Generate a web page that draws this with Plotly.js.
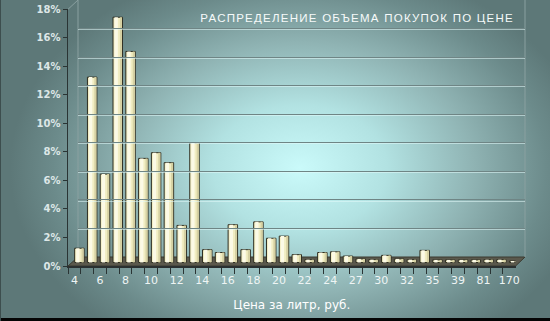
<!DOCTYPE html>
<html>
<head>
<meta charset="utf-8">
<script src="https://cdn.plot.ly/plotly-3.0.1.min.js"></script>
<style>
  html, body { margin: 0; padding: 0; background: #5f7a7a; }
  #chart {
    width: 550px; height: 321px; position: relative;
    background: radial-gradient(ellipse 290px 210px at 300px 168px, #cafafa 0%, #b2e2e2 30%, #8fb3b3 60%, #6c8b8b 85%, #5d7878 100%);
    box-shadow: inset 1px 0 0 #3d4e4e, inset 0 -3px 0 #050505;
  }
  #chart .gtitle { letter-spacing: 1.25px; }
</style>
</head>
<body>
<div id="chart"></div>
<script>
// Price per litre (rub.) categories
const categories = ['4','5','6','7','8','9','10','11','12','13','14','15','16','17','18','19','20','21','22','23','24','25','27','28','30','31','32','33','35','36','39','40','81','100','170'];
// Tick labels (every other category labelled)
const tickLabels = ['4','','6','','8','','10','','12','','14','','16','','18','','20','','22','','24','','27','','30','','32','','35','','39','','81','','170'];
// Share of purchase volume, %
const shares = [1.0, 13.0, 6.2, 17.2, 14.8, 7.3, 7.7, 7.0, 2.6, 8.4, 0.9, 0.7, 2.65, 0.9, 2.85, 1.7, 1.85, 0.55, 0.2, 0.7, 0.75, 0.45, 0.25, 0.2, 0.5, 0.25, 0.2, 0.85, 0.18, 0.18, 0.18, 0.18, 0.2, 0.2, 0.1];
// Y axis ticks
const yTickVals = [0, 2, 4, 6, 8, 10, 12, 14, 16, 18];
const yTickText = ['0%', '2%', '4%', '6%', '8%', '10%', '12%', '14%', '16%', '18%'];

const barBase = {
  type: 'bar', x: categories, y: shares, xaxis: 'x', yaxis: 'y2',
  hoverinfo: 'skip', showlegend: false
};
const helper = (xa, ya) => ({
  type: 'scatter', mode: 'markers', x: categories, y: shares, xaxis: xa, yaxis: ya,
  marker: { opacity: 0, size: 1 }, hoverinfo: 'skip', showlegend: false
});

const traces = [
  // invisible helpers so the labelled axis and the back-wall grid subplots are drawn
  helper('x', 'y'),
  helper('x2', 'y3'),
  helper('x2', 'y4'),
  Object.assign({}, barBase, {
    width: 0.74, offset: 0.02,
    marker: { color: '#f1edc2', line: { color: '#2e2e22', width: 1 } }
  }),
  Object.assign({}, barBase, {
    width: 0.26, offset: 0.14,
    marker: { color: '#fcfae6', line: { width: 0 } }
  }),
  Object.assign({}, barBase, {
    width: 0.16, offset: 0.56,
    marker: { color: '#d6d1a3', line: { width: 0 } }
  })
];

const layout = {
  width: 550, height: 321,
  margin: { l: 68, r: 25, t: 0, b: 55 },
  paper_bgcolor: 'rgba(0,0,0,0)',
  plot_bgcolor: 'rgba(0,0,0,0)',
  barmode: 'overlay',
  showlegend: false,
  title: {
    text: 'РАСПРЕДЕЛЕНИЕ ОБЪЕМА ПОКУПОК ПО ЦЕНЕ',
    xref: 'container', yref: 'container',
    x: 514 / 550, xanchor: 'right',
    y: 1 - 18 / 321, yanchor: 'middle',
    font: { family: 'Arial, Liberation Sans', size: 11.5, color: '#f6fafa' }
  },
  xaxis: {
    type: 'category',
    domain: [0, 0.9794],
    range: [-0.5, 34.5],
    tickmode: 'array',
    tickvals: categories,
    ticktext: tickLabels,
    tickson: 'boundaries',
    tickangle: 0,
    ticklabelstandoff: 3,
    ticks: 'outside', ticklen: 6, tickcolor: '#2a3434', tickwidth: 1,
    showline: true, linecolor: '#2a3030', linewidth: 1.5,
    showgrid: false, zeroline: false,
    tickfont: { family: 'Tahoma, DejaVu Sans', size: 11, color: '#eef4f4' },
    title: {
      text: 'Цена за литр, руб.', standoff: 15,
      font: { family: 'Tahoma, DejaVu Sans', size: 12, color: '#ffffff' }
    }
  },
  yaxis: {
    domain: [0, 0.965],
    range: [0, 18],
    tickmode: 'array',
    tickvals: yTickVals,
    ticktext: yTickText,
    ticks: 'outside', ticklen: 4, tickcolor: '#2a3434',
    showline: true, linecolor: '#2a3434', linewidth: 1.5,
    showgrid: false, zeroline: false,
    tickfont: { family: 'DejaVu Sans', size: 10, color: '#dde7e7', weight: 'bold' }
  },
  yaxis2: {
    overlaying: 'y', domain: [0, 0.965],
    range: [-0.246, 17.754],
    visible: false, showgrid: false, zeroline: false
  },
  xaxis2: {
    type: 'category',
    domain: [0.0219, 1], anchor: 'y3', range: [-0.5, 34.5],
    visible: false, showgrid: false, zeroline: false
  },
  yaxis3: {
    domain: [0.0338, 1], anchor: 'x2', range: [0, 18],
    tickmode: 'array',
    tickvals: yTickVals.slice(1),
    showgrid: true, gridcolor: '#6f8585', gridwidth: 1,
    showticklabels: false, ticks: '', showline: false, zeroline: false
  },
  yaxis4: {
    domain: [0.0338 - 1.2 / 266, 1 - 1.2 / 266], anchor: 'x2', range: [0, 18],
    tickmode: 'array',
    tickvals: yTickVals.slice(1, -1),
    showgrid: true, gridcolor: 'rgba(225,250,250,0.55)', gridwidth: 1,
    showticklabels: false, ticks: '', showline: false, zeroline: false
  },
  shapes: [
    // floor
    { type: 'path', xref: 'paper', yref: 'paper', layer: 'between',
      path: 'M 0 0 L 0.9794 0 L 1 0.0338 L 0.0219 0.0338 Z',
      fillcolor: '#5a584c', line: { color: '#3a3a30', width: 1 } },
    // back wall edges
    { type: 'line', xref: 'x2 domain', yref: 'y3 domain', x0: 0, x1: 0, y0: 0, y1: 1,
      line: { color: '#8aa0a0', width: 1 }, layer: 'below' },
    { type: 'line', xref: 'x2 domain', yref: 'y3 domain', x0: 1, x1: 1, y0: 0, y1: 1,
      line: { color: '#8aa0a0', width: 1 }, layer: 'below' },
    // left wall top diagonal
    { type: 'line', xref: 'paper', yref: 'paper', x0: 0, y0: 0.965, x1: 0.0219, y1: 1,
      line: { color: '#8aa0a0', width: 1 }, layer: 'below' }
  ]
};

Plotly.newPlot('chart', traces, layout, { displayModeBar: false, staticPlot: true });
</script>
</body>
</html>
